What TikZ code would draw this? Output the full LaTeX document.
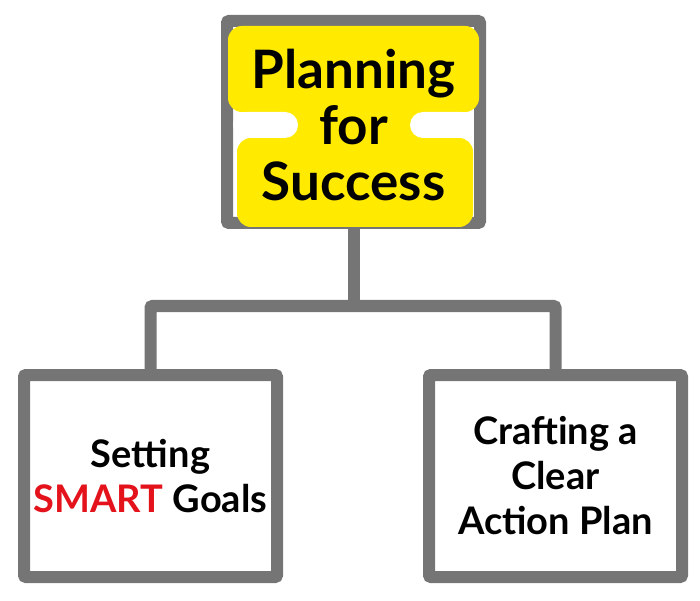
\documentclass[tikz,border=0pt]{standalone}
\usepackage{fontspec}
\setmainfont{Lato}
\usetikzlibrary{positioning,calc}
\definecolor{boxgray}{HTML}{757575}
\definecolor{hlyellow}{HTML}{FFEA00}
\definecolor{smartred}{HTML}{E3121B}

\begin{document}
\begin{tikzpicture}[x=1pt,y=1pt,
		box/.style={draw=boxgray, line width=12pt, rounded corners=2pt, minimum width=253pt, minimum height=202pt, inner sep=0pt},
		conn/.style={draw=boxgray, line width=12pt, rounded corners=2pt},
		toptext/.style={align=center, font=\fontsize{53}{56}\selectfont\bfseries},
		subtext/.style={align=center, font=\fontsize{38}{45}\selectfont\bfseries}]
			\useasboundingbox (0,0) rectangle (700,600);
			\node[box] (plan) at (353.5,478) {};
			% highlight behind the title
			\fill[hlyellow, rounded corners=14pt] (228,574) rectangle (479,488);
			\fill[hlyellow] (283,492) rectangle (425,458);
			\fill[hlyellow, rounded corners=14pt] (237,462) rectangle (473,373);
			\fill[white, rounded corners=13pt] (233,488) rectangle (298,462);
			\fill[white, rounded corners=13pt] (410,488) rectangle (474,462);
			\node[toptext] (plantxt) at (353.5,475) {Planning\\for\\Success};
			\node[box] (smart) at (150.5,124) {};
			\node[subtext] (smarttxt) at (smart) {Setting\\\textcolor{smartred}{SMART} Goals};
			\node[box] (action) at (555.5,124) {};
			\node[subtext] (actiontxt) at (action) {Crafting a\\Clear\\Action Plan};
			\coordinate (fork) at ($(plan.south)+(0,-77)$);
			\draw[conn] (plan.south) -- (fork);
			\draw[conn] (smart.north) |- (fork) -| (action.north);
	\end{tikzpicture}
\end{document}
